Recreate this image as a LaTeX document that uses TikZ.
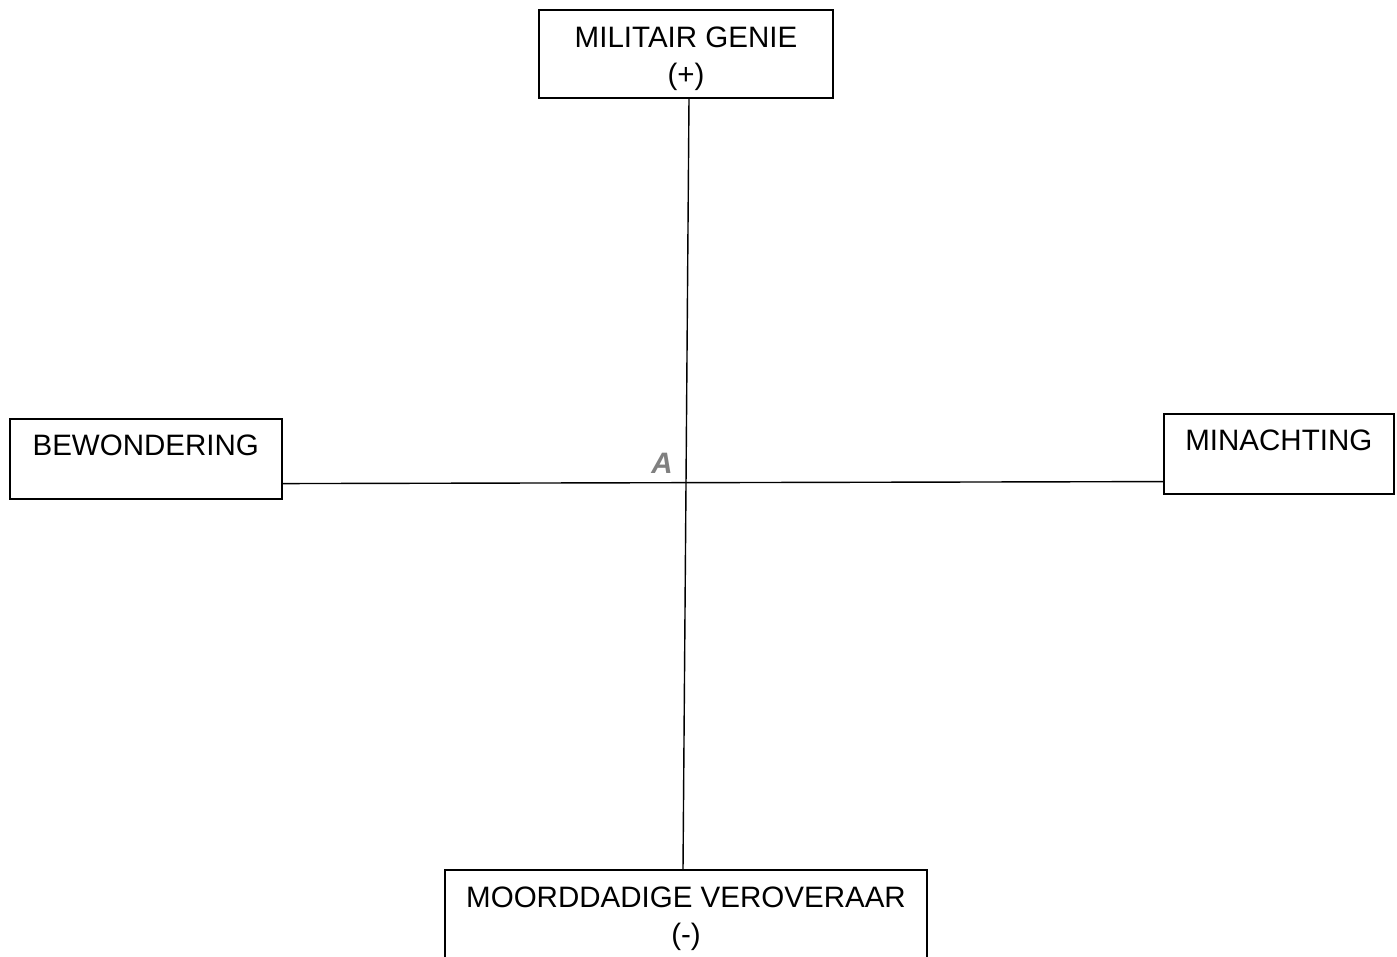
\documentclass[tikz,border=0pt]{standalone}
\usepackage{fontspec}
\setmainfont{Liberation Sans}
\usetikzlibrary{calc,positioning}
\definecolor{agray}{RGB}{128,128,128}
\tikzstyle{box} = [draw, line width=0.9pt, inner sep=0pt, align=center,
  font=\fontsize{16.8}{21}\selectfont]
\tikzstyle{onebox} = [box, inner ysep=0pt, text height=0.74cm, text depth=0.86cm]
\tikzstyle{twobox} = [box, inner ysep=0pt, text height=1.5cm]

\begin{document}
\begin{tikzpicture}[x=1cm,y=1cm]
    \useasboundingbox (0,0) rectangle (27.94,-19.14);

    \node[twobox, minimum width=5.88cm, text depth=0.26cm, anchor=north]
    (genie) at (13.72,-0.18) {MILITAIR GENIE\\(+)};

    \node[onebox, minimum width=5.44cm, anchor=north west]
    (bewondering) at (0.18,-8.36) {BEWONDERING};

    \node[onebox, minimum width=4.6cm, anchor=north west]
    (minachting) at (23.26,-8.26) {MINACHTING};

    \node[twobox, minimum width=9.64cm, text depth=0.5cm, anchor=north]
    (veroveraar) at (13.72,-17.38) {MOORDDADIGE VEROVERAAR\\(-)};

    \node[text=agray, font=\fontsize{16.8}{18}\selectfont\bfseries\itshape]
    (a) at (13.24,-9.26) {A};

    \draw[line width=0.8pt] ($(genie.south)+(0.06,0)$)
    -- ($(veroveraar.north)+(-0.06,0)$);
    \draw[line width=0.8pt] ($(bewondering.south east)+(0,0.32)$)
    -- ($(minachting.south west)+(0,0.26)$);

  \end{tikzpicture}
\end{document}
